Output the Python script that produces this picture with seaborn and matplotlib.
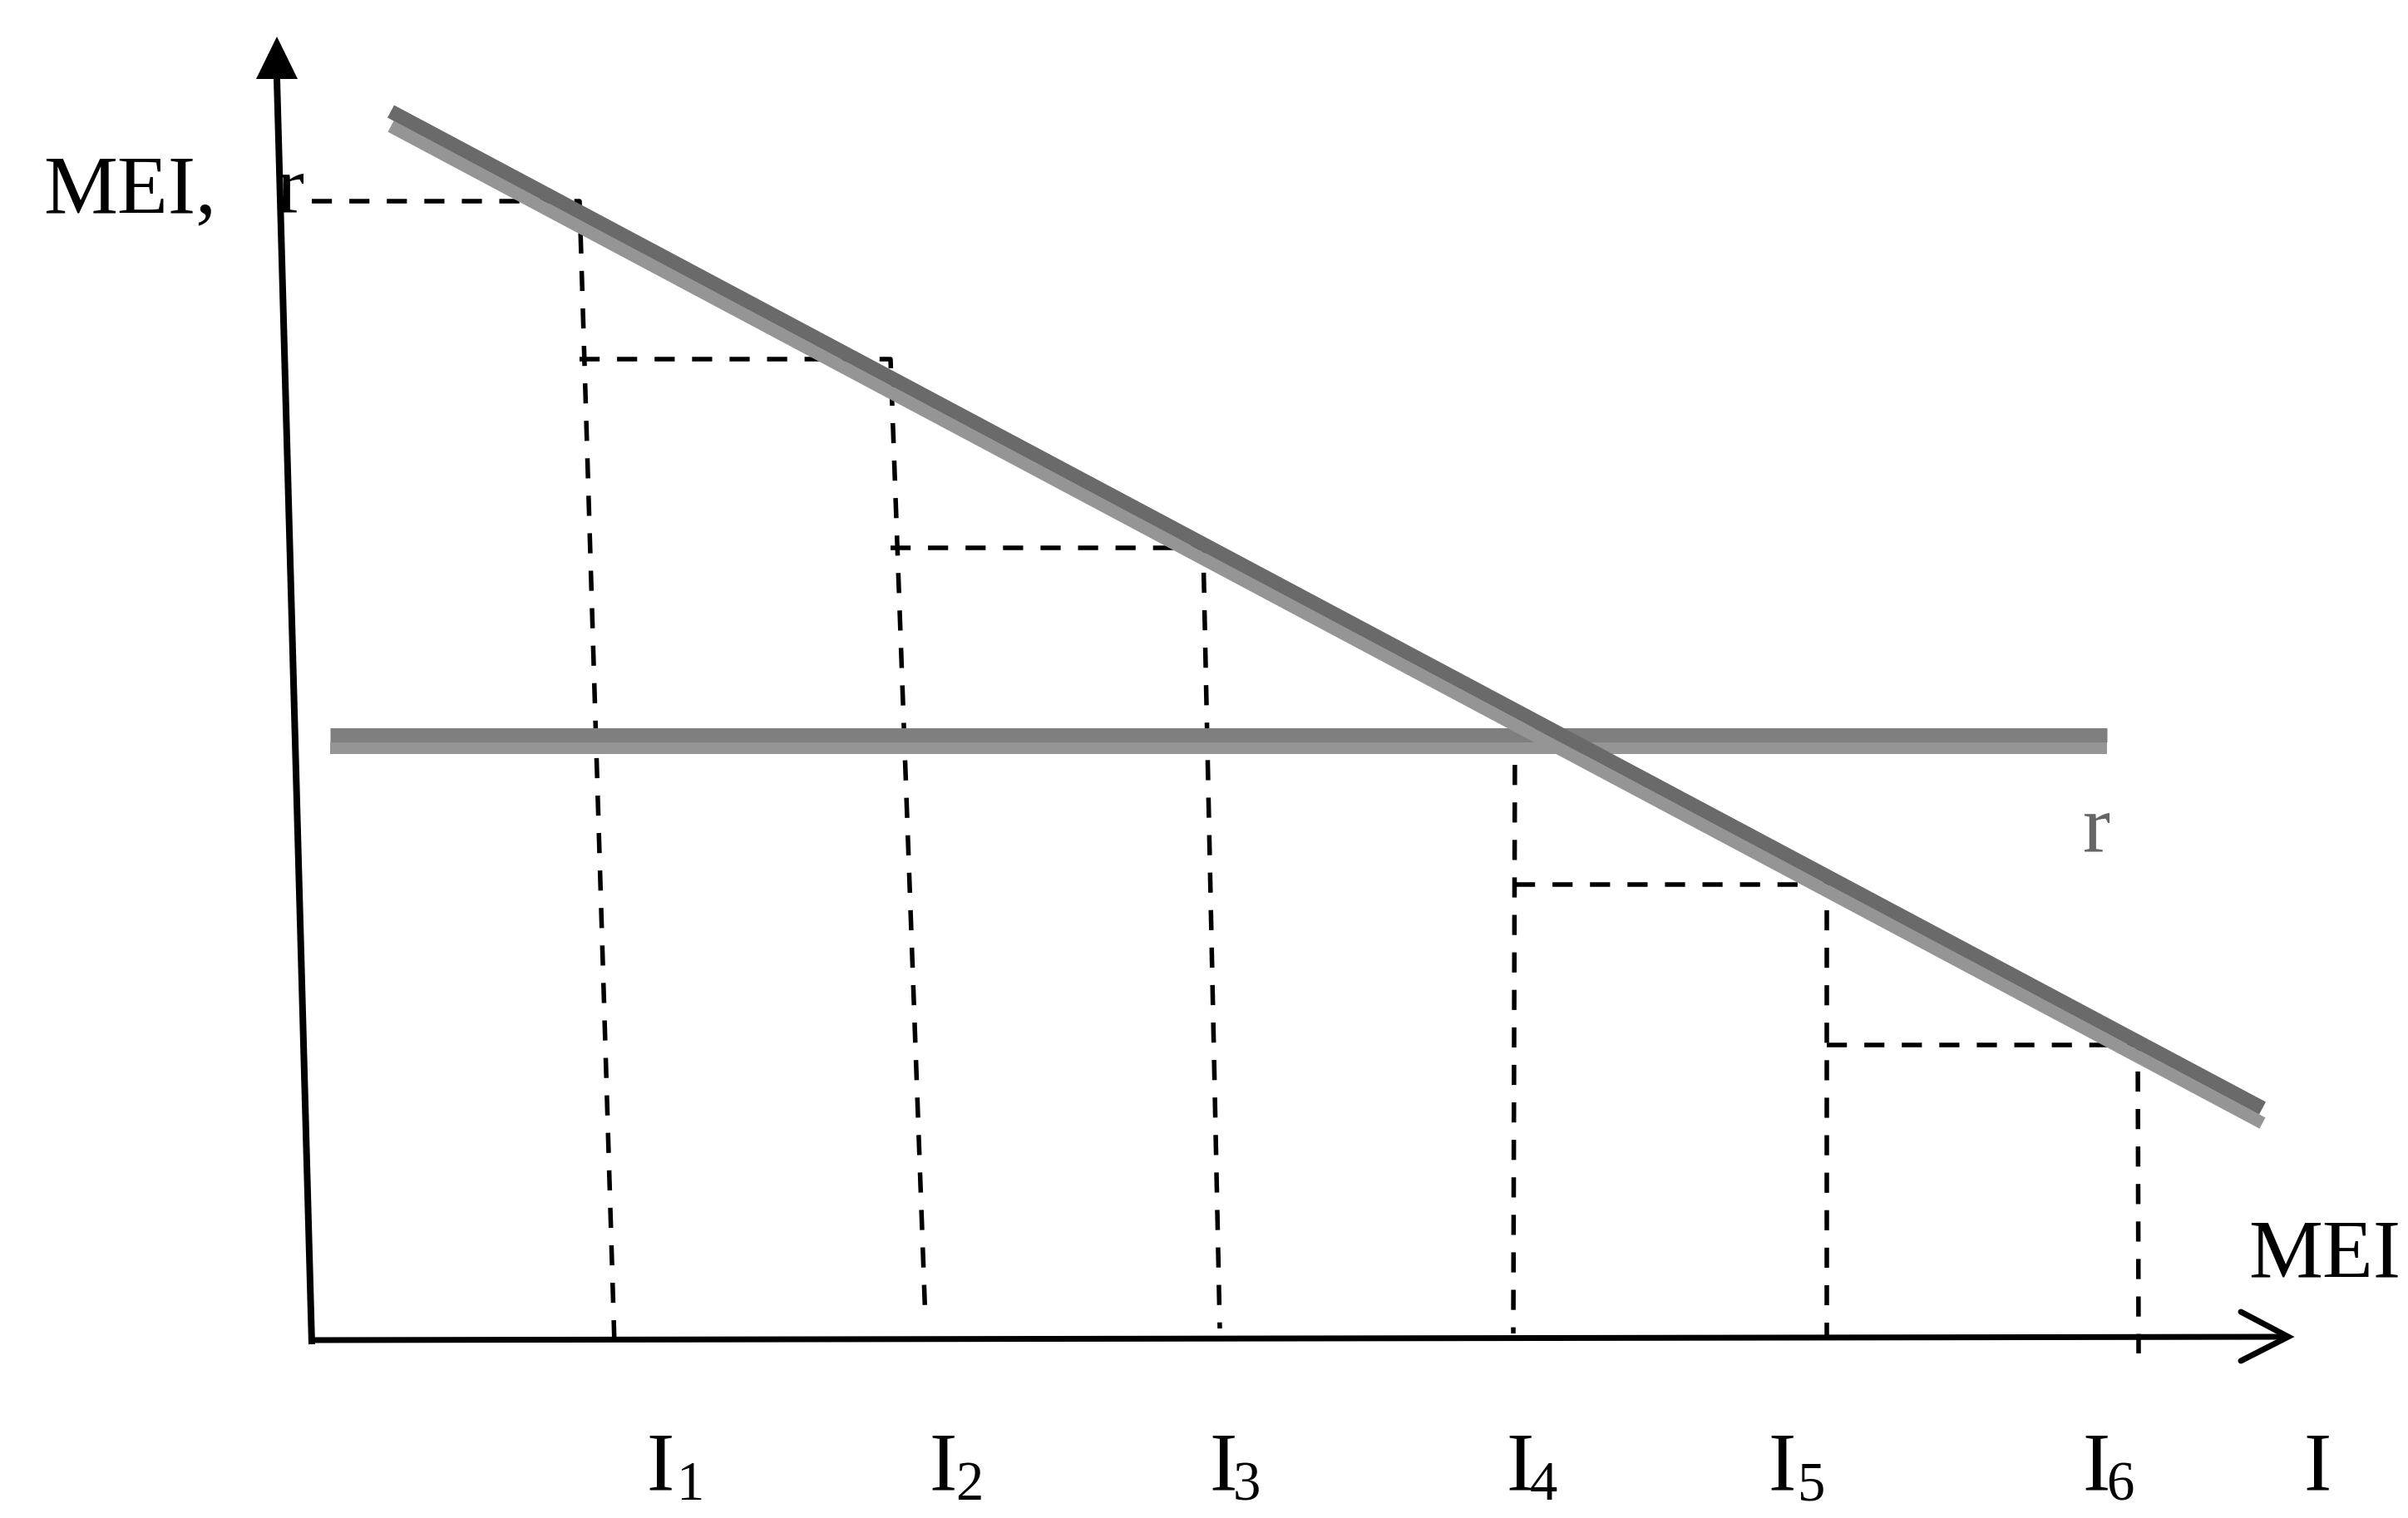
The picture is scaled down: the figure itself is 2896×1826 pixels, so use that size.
"""
Diagram: MEI schedule against the interest rate r, with investment steps I1..I6
"""
import numpy as np
import pandas as pd
import matplotlib
matplotlib.use('Agg')
import matplotlib.pyplot as plt
import seaborn as sns

# chart coordinates: origin at the corner of the two axes
# MEI (downward sloping) line end points
mei_x = [91, 2342]
mei_y = [1482, 283]

# interest rate r (horizontal line)
r_x = [18, 2155]
r_y = [732, 732]

# investment projects: top corner of each step and foot of its dashed drop
step_labels = ['1', '2', '3', '4', '5', '6']
step_top_x = [318, 692, 1068, 1443, 1818, 2192]
step_top_y = [1374, 1184, 957, 741, 552, 359]
step_foot_x = [360, 734, 1088, 1441, 1818, 2193]
step_foot_y = [-1, 26, 18, 12, 10, -12]
# where each horizontal dash starts (nan = no horizontal part)
step_from_x = [-4, 318, 692, np.nan, 1443, 1818]

# label positions for I1..I6 and I
label_x = [398, 738, 1075, 1432, 1747, 2125]
sub_x = [434, 770, 1104, 1461, 1783, 2154]
last_label_x = 2391

sns.set_theme(style='white')
plt.rcParams['font.family'] = ['Liberation Serif', 'DejaVu Serif']

fig = plt.figure(figsize=(14.48, 9.13), dpi=200)
ax = fig.add_axes([0, 0, 1, 1])
ax.set_xlim(-379, 2517)
ax.set_ylim(-210, 1616)
ax.axis('off')

px = 72 / 200  # one pixel in points

# axes with arrows
ax.plot([-4, -46], [-1, 1521], color='black', lw=8 * px, solid_capstyle='butt')
ax.fill([-71, -46, -21], [1521, 1572, 1521], color='black', lw=0)
ax.plot([-4, 2370], [4, 8], color='black', lw=7 * px, solid_capstyle='butt')
ax.plot([2316, 2373, 2316], [38, 8, -21], color='black', lw=7 * px,
        solid_capstyle='round', solid_joinstyle='miter')

# dashed steps
dash = (0, (4.4, 3.8))
for k in range(len(step_labels)):
    xs, ys = [], []
    if not np.isnan(step_from_x[k]):
        xs.append(step_from_x[k])
        ys.append(step_top_y[k])
    xs += [step_top_x[k], step_foot_x[k]]
    ys += [step_top_y[k], step_foot_y[k]]
    seg = pd.DataFrame({'x': xs, 'y': ys})
    sns.lineplot(data=seg, x='x', y='y', ax=ax, sort=False, estimator=None,
                 color='black', linewidth=5.5 * px, linestyle=dash,
                 dash_capstyle='butt')

shadow = '#959595'

# r line with its shadow
r_df = pd.DataFrame({'x': r_x, 'y': r_y})
sns.lineplot(x=r_df['x'], y=r_df['y'] - 15.5, ax=ax, sort=False, estimator=None,
             color=shadow, linewidth=14 * px, solid_capstyle='butt')
sns.lineplot(data=r_df, x='x', y='y', ax=ax, sort=False, estimator=None,
             color='#7f7f7f', linewidth=17 * px, solid_capstyle='butt')

# MEI line with its shadow
mei_df = pd.DataFrame({'x': mei_x, 'y': mei_y})
sns.lineplot(x=mei_df['x'], y=mei_df['y'] - 18, ax=ax, sort=False, estimator=None,
             color=shadow, linewidth=15 * px, solid_capstyle='butt')
sns.lineplot(data=mei_df, x='x', y='y', ax=ax, sort=False, estimator=None,
             color='#6a6a6a', linewidth=17 * px, solid_capstyle='butt')

# texts
big = 36
small = 24
ax.text(-327, 1361, 'MEI,', fontsize=big, ha='left', va='baseline', color='black')
ax.text(-46, 1361, 'r', fontsize=big, ha='left', va='baseline', color='black')
ax.text(2126, 592, 'r', fontsize=big, ha='left', va='baseline', color='#666666')
ax.text(2325, 81, 'MEI', fontsize=big, ha='left', va='baseline', color='black')

for lx, sx, s in zip(label_x, sub_x, step_labels):
    ax.text(lx, -175, 'I', fontsize=big, ha='left', va='baseline', color='black')
    ax.text(sx, -188, s, fontsize=small, ha='left', va='baseline', color='black')
ax.text(last_label_x, -175, 'I', fontsize=big, ha='left', va='baseline', color='black')

if ax.get_legend() is not None:
    ax.get_legend().remove()

fig.savefig('out.png', dpi=200)
plt.close(fig)
